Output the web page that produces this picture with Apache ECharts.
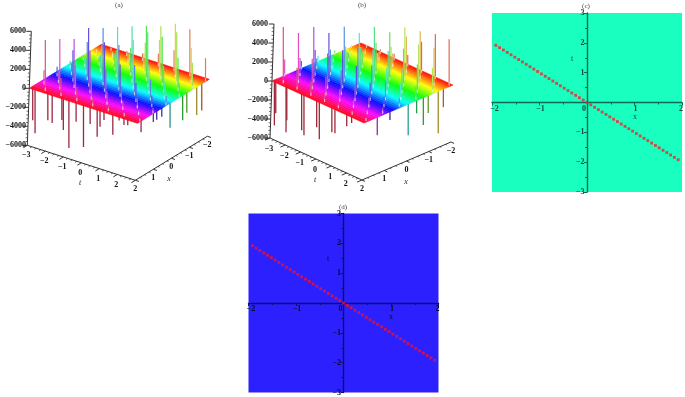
<!DOCTYPE html>
<html><head><meta charset="utf-8">
<style>html,body{margin:0;padding:0;background:#fff}#c{width:685px;height:397px}</style>
<script src="https://cdn.jsdelivr.net/npm/echarts@6/dist/echarts.min.js"></script>
</head><body><div id="c"></div>
<script>
const tTicks=[-3,-2,-1,0,1,2];
const xTicks=[-2,-1,0,1,2];
const zTicks=[-6000,-4000,-2000,0,2000,4000,6000];
const planeXTicks=[-2,-1,0,1,2];
const planeYTicks=[-3,-2,-1,1,2,3];
const surfaceX=[2,1.9,1.8,1.7,1.6,1.5,1.4,1.3,1.2,1.1,1,0.9,0.8,0.7,0.6,0.5,0.4,0.3,0.2,0.1,0,-0.1,-0.2,-0.3,-0.4,-0.5,-0.6,-0.7,-0.8,-0.9,-1,-1.1,-1.2,-1.3,-1.4,-1.5,-1.6,-1.7,-1.8,-1.9,-2];

const tA=[-2.70,-2.26,-1.82,-1.39,-0.95,-0.51,-0.07,0.37,0.80,1.24,1.68,2.12,2.56,2.99];
const xA=[1.85,1.485,1.12,0.755,0.39,0.025,-0.34,-0.705,-1.07,-1.435,-1.8];
const highA=[
[0,5370,0,1900,0,1500,0,900,0,600,0,400,0,300],
[1500,0,5320,0,3100,0,2200,0,1400,0,900,0,500,0],
[0,1300,0,5160,0,4500,0,3000,0,1800,0,1100,0,600],
[1000,0,3300,0,6170,0,5200,0,3400,0,2000,0,1200,0],
[0,1200,0,4000,0,6000,0,4750,0,3200,0,2200,0,1000],
[800,0,1500,0,3500,0,5970,0,5100,0,3000,0,1800,0],
[0,900,0,1800,0,2850,0,5900,0,5800,0,2800,0,1500],
[500,0,900,0,1800,0,2900,0,5790,0,5170,0,3500,0],
[0,600,0,1100,0,1600,0,3300,0,5580,0,5500,0,2800],
[300,0,600,0,1000,0,1500,0,3450,0,5680,0,3670,0],
[0,400,0,500,0,800,0,1300,0,2200,0,4950,0,2450]];
const lowTA=[-2.96,-2.83,-2.12,-1.88,-1.34,-1.26,-0.95,-0.55,-0.14,0.23,0.62,0.78,1.0,1.49,1.84,2.11,2.32,2.88,2.88,2.88,2.88,2.88,2.88,2.88,2.88,2.88];
const lowXA=[1.85,1.85,1.85,1.85,1.85,1.85,1.85,1.85,1.85,1.85,1.85,1.85,1.85,1.85,1.85,1.85,1.85,1.67,0.99,0.8,0.52,0.06,-0.64,-0.87,-1.42,-1.7];
const lowZA=[-3500,-4800,-3000,-3150,-2500,-3500,-5200,-2200,-4600,-1950,-3050,-1900,-1050,-2300,-600,-900,-800,-1400,-1100,-1100,-1100,-2800,-2800,-2300,-3150,-3000];

const tB=[-2.93,-2.48,-2.03,-1.58,-1.13,-0.68,-0.235,0.21,0.66,1.11,1.56,2.01,2.46,2.91];
const xB=[1.85,1.48,1.10,0.73,0.35,-0.02,-0.39,-0.77,-1.14,-1.52,-1.89];
const highB=[
[0,5930,0,2300,0,1500,0,900,0,600,0,400,0,300],
[1800,0,5250,0,3200,0,2000,0,1300,0,800,0,500,0],
[0,1900,0,5840,0,3700,0,2600,0,1700,0,1000,0,600],
[900,0,2700,0,5160,0,4000,0,3000,0,1900,0,1100,0],
[0,1100,0,2700,0,5760,0,4200,0,3000,0,2000,0,900],
[700,0,1400,0,3000,0,5080,0,4000,0,2800,0,1700,0],
[0,800,0,1700,0,2900,0,5660,0,3800,0,2600,0,1400],
[500,0,900,0,1700,0,3300,0,5050,0,4000,0,3000,0],
[0,500,0,1000,0,1500,0,2830,0,5530,0,4400,0,2600],
[300,0,600,0,900,0,1400,0,3850,0,5070,0,4000,0],
[0,300,0,500,0,700,0,1200,0,3270,0,4750,0,4870]];
const lowTB=[-2.99,-2.90,-2.18,-2.23,-1.21,-1.06,-0.23,-0.06,0.76,0.96,1.73,2.05,2.88,2.88,2.88,2.88,2.88,2.88,2.88,2.88];
const lowXB=[1.9,1.9,1.9,1.9,1.9,1.9,1.9,1.9,1.9,1.9,1.9,1.9,1.32,0.75,-0.07,-0.45,-0.75,-0.97,-1.42,-1.65];
const lowZB=[-4770,-3420,-3630,-4940,-3960,-4380,-2930,-4070,-2720,-2670,-1370,-800,-2050,-1030,-3450,-1500,-3060,-2010,-4590,-2070];

const lineX=[-1.92,-1.84,-1.76,-1.68,-1.6,-1.52,-1.44,-1.36,-1.28,-1.2,-1.12,-1.04,-0.96,-0.88,-0.8,-0.72,-0.64,-0.56,-0.48,-0.4,-0.32,-0.24,-0.16,-0.08,0,0.08,0.16,0.24,0.32,0.4,0.48,0.56,0.64,0.72,0.8,0.88,0.96,1.04,1.12,1.2,1.28,1.36,1.44,1.52,1.6,1.68,1.76,1.84,1.92];
const lineT=[1.92,1.84,1.76,1.68,1.6,1.52,1.44,1.36,1.28,1.2,1.12,1.04,0.96,0.88,0.8,0.72,0.64,0.56,0.48,0.4,0.32,0.24,0.16,0.08,0,-0.08,-0.16,-0.24,-0.32,-0.4,-0.48,-0.56,-0.64,-0.72,-0.8,-0.88,-0.96,-1.04,-1.12,-1.2,-1.28,-1.36,-1.44,-1.52,-1.6,-1.68,-1.76,-1.84,-1.92];

const SERIF='"Liberation Serif"';
const viewA={left:[29.3,88.3],tStep:[18,5.83],xStep:[18,-11],zStep:-0.0095,tilt:0.00033,
  zLabelX:26,tLab:[-1,10],xLab:[0,8.5],tName:[80,183],xName:[169,179]};
const viewB={left:[272,81],tStep:[15.33,7],xStep:[22.25,-9.5],zStep:-0.0095,tilt:0.00033,
  zLabelX:268,tLab:[-1,11],xLab:[0,8.5],tName:[315,180],xName:[406,182]};
function project(v,t,x,z){
  return [v.left[0]+(t+3)*v.tStep[0]+(2-x)*v.xStep[0]+z*v.tilt,
          v.left[1]+(t+3)*v.tStep[1]+(2-x)*v.xStep[1]+z*v.zStep];
}
function hueOf(x){return Math.max(0,Math.min(360,90*(x+2)));}
function minus(s){return String(s).replace('-','\u2212');}
function seg(a,b,stroke,w){return {type:'line',shape:{x1:a[0],y1:a[1],x2:b[0],y2:b[1]},style:{stroke:stroke,lineWidth:w}};}
function txt(p,s,font,fill,align){return {type:'text',x:p[0],y:p[1],style:{text:s,font:font,fill:fill||'#111',textAlign:align||'center',textVerticalAlign:'middle'}};}
function spikeRows(ts,xs,m){
  const rows=[];
  for(let j=xs.length-1;j>=0;j--)for(let i=0;i<ts.length;i++)if(m[j][i])rows.push([ts[i],xs[j],m[j][i]]);
  return rows;
}
function lowRows(ts,xs,zs){return ts.map((t,i)=>[t,xs[i],zs[i]]);}
function upSeries(v,rows){return {type:'custom',xAxisIndex:0,yAxisIndex:0,z:5,clip:false,silent:true,data:rows,
  renderItem(p,api){
    const t=api.value(0),x=api.value(1),z=api.value(2);
    const b=project(v,t,x,0),q=project(v,t,x,z);
    const h=hueOf(x);
    const base=api.coord([b[0],b[1]]),top=api.coord([b[0],q[1]]);
    const stub=api.coord([b[0],project(v,t,x,Math.min(z,330))[1]]);
    return {type:'group',children:[
      seg(base,top,'hsl('+h+',72%,60%)',1.2),
      seg(base,stub,'rgba(255,255,255,0.55)',1.2)]};
  }};}
function downSeries(v,rows){return {type:'custom',xAxisIndex:0,yAxisIndex:0,z:3,clip:false,silent:true,data:rows,
  renderItem(p,api){
    const t=api.value(0),x=api.value(1),z=api.value(2);
    const b=project(v,t,x,0),q=project(v,t,x,z);
    return seg(api.coord([b[0],b[1]]),api.coord([b[0],q[1]]),'hsl('+hueOf(x)+',60%,38%)',1.3);
  }};}
function surfaceSeries(v){return {type:'custom',xAxisIndex:0,yAxisIndex:0,z:4,clip:false,silent:true,
  data:surfaceX.slice(0,-1).map((x,i)=>[x,surfaceX[i+1]]),
  renderItem(p,api){
    const x0=api.value(0),x1=api.value(1);
    const c='hsl('+hueOf((x0+x1)/2)+',100%,52%)';
    const pts=[[-3,x0],[3,x0],[3,x1],[-3,x1]].map(q=>{const s=project(v,q[0],q[1],0);return api.coord(s);});
    return {type:'polygon',shape:{points:pts},style:{fill:c,stroke:c,lineWidth:0.6}};
  }};}
function frameSeries(v){return {type:'custom',xAxisIndex:0,yAxisIndex:0,z:6,clip:false,silent:true,data:[[0,0]],
  renderItem(p,api){
    const C=a=>api.coord(a),ch=[],ax='#333',font='bold 8px '+SERIF;
    ch.push(seg(C(project(v,-3,2,-6000)),C(project(v,-3,2,6000)),ax,1));
    ch.push(seg(C(project(v,-3,2,-6000)),C(project(v,3,2,-6000)),ax,1));
    ch.push(seg(C(project(v,3,2,-6000)),C(project(v,3,-2,-6000)),ax,1));
    zTicks.forEach((z,k)=>{
      const a=project(v,-3,2,z);
      ch.push(seg(C(a),C([a[0]-5,a[1]]),ax,1));
      ch.push(txt(C([v.zLabelX,a[1]]),minus(z),font,'#111','right'));
      if(k<zTicks.length-1)for(let m=1;m<5;m++){
        const b=project(v,-3,2,z+400*m);
        ch.push(seg(C(b),C([b[0]-2,b[1]]),ax,0.7));
      }
    });
    tTicks.concat([3]).forEach((t)=>{
      const a=project(v,t,2,-6000),e=project(v,t,2.22,-6000);
      ch.push(seg(C(a),C(e),ax,1));
      if(t<3){
        ch.push(txt(C([a[0]+v.tLab[0],a[1]+v.tLab[1]]),minus(t),font));
        for(let m=1;m<4;m++){const g=project(v,t+m/4,2,-6000),f=project(v,t+m/4,2.1,-6000);ch.push(seg(C(g),C(f),ax,0.7));}
      }
    });
    xTicks.forEach((x,k)=>{
      const a=project(v,3,x,-6000),e=project(v,3.2,x,-6000);
      ch.push(seg(C(a),C(e),ax,1));
      ch.push(txt(C([a[0]+v.xLab[0],a[1]+v.xLab[1]]),minus(x),font));
      if(k<xTicks.length-1)for(let m=1;m<4;m++){const g=project(v,3,x+m/4,-6000),f=project(v,3.1,x+m/4,-6000);ch.push(seg(C(g),C(f),ax,0.7));}
    });
    ch.push(txt(C(v.tName),'t','italic 8px '+SERIF,'#222'));
    ch.push(txt(C(v.xName),'x','italic 8px '+SERIF,'#222'));
    return {type:'group',children:ch};
  }};}

const pixelGrid={left:0,top:0,width:685,height:397,show:false};
function planeAxes(g,axisColor){
  const line={onZero:true,lineStyle:{color:axisColor,width:1.4}};
  const tick={length:3,lineStyle:{color:axisColor}};
  const minor={show:true,splitNumber:2,length:2,lineStyle:{color:axisColor}};
  return {
   x:{type:'value',gridIndex:g,min:-2,max:2,interval:1,splitLine:{show:false},axisLine:line,axisTick:tick,minorTick:minor,axisLabel:{show:false}},
   y:{type:'value',gridIndex:g,min:-3,max:3,interval:1,splitLine:{show:false},axisLine:line,axisTick:tick,minorTick:minor,axisLabel:{show:false}}
  };
}
const axC=planeAxes(1,'#0d6a56');
const axD=planeAxes(2,'#12105e');
function labelSeries(idx,color){return {type:'custom',xAxisIndex:idx,yAxisIndex:idx,z:8,clip:false,silent:true,data:[[0,0]],
  renderItem(p,api){
    const font='bold 8px '+SERIF,ch=[];
    planeXTicks.forEach(x=>{
      const c=api.coord([x,0]);
      const shift=x===-2?2.5:x===2?-1:x===0?-3:1;
      ch.push(txt([c[0]+shift,c[1]+6],minus(x),font,color));
    });
    planeYTicks.forEach(y=>{
      const c=api.coord([0,y]);
      ch.push(txt([c[0]-2.5,c[1]],minus(y),font,color,'right'));
    });
    return {type:'group',children:ch};
  }};}
function dotSeries(idx,color){return {type:'scatter',xAxisIndex:idx,yAxisIndex:idx,symbol:'rect',symbolSize:2.8,silent:true,z:7,
  itemStyle:{color:color},data:lineX.map((x,i)=>[x,lineT[i]])};}
function cap(x,y,s,size,color){return {type:'text',x:x,y:y,silent:true,style:{text:s,font:(size||7)+'px '+SERIF,fill:color||'#444',textAlign:'center',textVerticalAlign:'middle'}};}

const chart=echarts.init(document.getElementById('c'),null,{renderer:'canvas'});
chart.setOption({
  animation:false,backgroundColor:'#fff',
  grid:[pixelGrid,
    {left:492,top:13,width:190,height:179,show:true,backgroundColor:'#19ffbf',borderWidth:0},
    {left:248.5,top:213.5,width:190,height:179,show:true,backgroundColor:'#2c20ff',borderWidth:0}],
  xAxis:[{type:'value',gridIndex:0,min:0,max:685,show:false},axC.x,axD.x],
  yAxis:[{type:'value',gridIndex:0,min:0,max:397,inverse:true,show:false},axC.y,axD.y],
  series:[
    downSeries(viewA,lowRows(lowTA,lowXA,lowZA)),surfaceSeries(viewA),upSeries(viewA,spikeRows(tA,xA,highA)),frameSeries(viewA),
    downSeries(viewB,lowRows(lowTB,lowXB,lowZB)),surfaceSeries(viewB),upSeries(viewB,spikeRows(tB,xB,highB)),frameSeries(viewB),
    dotSeries(1,'#f4202e'),dotSeries(2,'#f01030'),labelSeries(1,'#134a3c'),labelSeries(2,'#0a0a28')
  ],
  graphic:[
    cap(119,5,'(a)'),cap(362,5,'(b)'),cap(586,6.5,'(c)'),cap(343,207,'(d)'),
    cap(635,117,'x',8,'#134a3c'),cap(572,59,'t',8,'#134a3c'),
    cap(391,317,'x',8,'#0a0a28'),cap(328,259,'t',8,'#0a0a28')
  ]
});
</script></body></html>
